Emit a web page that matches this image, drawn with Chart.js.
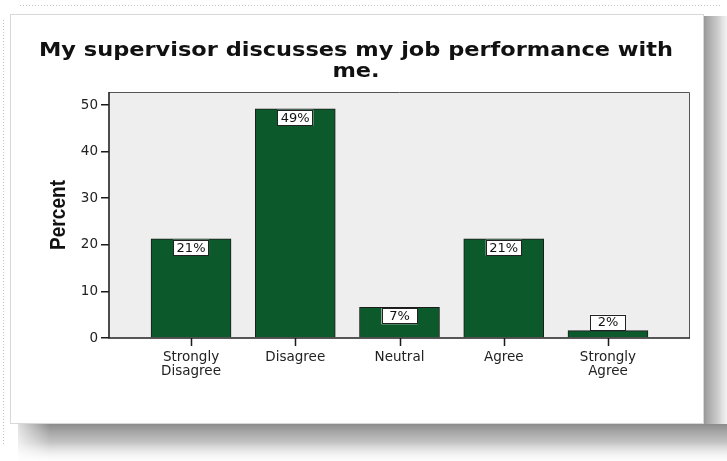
<!DOCTYPE html>
<html>
<head>
<meta charset="utf-8">
<script src="https://cdn.jsdelivr.net/npm/chart.js@4.4.1/dist/chart.umd.min.js"></script>
<style>
  html, body { margin: 0; padding: 0; background: #ffffff; }
  #wrap { width: 727px; height: 461px; }
</style>
</head>
<body>
<div id="wrap"><canvas id="chart" width="727" height="461"></canvas></div>
<script>
// Survey responses: share of respondents per answer
const categories = ['Strongly Disagree', 'Disagree', 'Neutral', 'Agree', 'Strongly Agree'];
const categoryLines = [['Strongly', 'Disagree'], ['Disagree'], ['Neutral'], ['Agree'], ['Strongly', 'Agree']];
const percentValues = [21.3, 49.2, 6.6, 21.3, 1.6];
const yTickValues = [0, 10, 20, 30, 40, 50];
const chartTitle = ['My supervisor discusses my job performance with', 'me.'];
const yAxisTitle = 'Percent';

const W = 727, H = 461;

// Draw text centred at (cx, cy), stretched horizontally by factor sx
function drawStretched(ctx, text, cx, cy, sx) {
  ctx.save();
  ctx.translate(cx, cy);
  ctx.scale(sx, 1);
  ctx.textAlign = 'center';
  ctx.textBaseline = 'middle';
  ctx.fillText(text, 0, 0);
  ctx.restore();
}

const framePlugin = {
  id: 'frame',
  beforeDraw(chart) {
    const ctx = chart.ctx;
    const a = chart.chartArea;
    ctx.save();
    ctx.fillStyle = '#ffffff';
    ctx.fillRect(0, 0, W, H);

    // faint dotted outline of the outer page
    ctx.strokeStyle = '#c4c4c4';
    ctx.lineWidth = 1;
    ctx.setLineDash([1, 2]);
    ctx.beginPath();
    ctx.moveTo(20, 5.5); ctx.lineTo(722, 5.5);
    ctx.moveTo(3.5, 20); ctx.lineTo(3.5, 445);
    ctx.stroke();
    ctx.setLineDash([]);

    // card shadow: right edge
    const cardL = 10, cardT = 14, cardR = 704, cardB = 424;
    let g = ctx.createLinearGradient(cardR, 0, W, 0);
    g.addColorStop(0, 'rgba(90,90,90,0.62)');
    g.addColorStop(0.6, 'rgba(140,140,140,0.45)');
    g.addColorStop(1, 'rgba(200,200,200,0.25)');
    ctx.fillStyle = g;
    ctx.fillRect(cardR, cardT + 2, W - cardR, cardB - cardT - 2);

    // card shadow: bottom edge
    g = ctx.createLinearGradient(0, cardB, 0, H);
    g.addColorStop(0, 'rgba(80,80,80,0.66)');
    g.addColorStop(0.5, 'rgba(130,130,130,0.48)');
    g.addColorStop(1, 'rgba(230,230,230,0.08)');
    ctx.fillStyle = g;
    ctx.fillRect(cardL + 8, cardB, W - cardL - 8, H - cardB);
    g = ctx.createLinearGradient(cardL, 0, cardL + 40, 0);
    g.addColorStop(0, 'rgba(255,255,255,0.9)');
    g.addColorStop(1, 'rgba(255,255,255,0)');
    ctx.fillStyle = g;
    ctx.fillRect(cardL, cardB, 40, H - cardB);

    // white card
    ctx.fillStyle = '#ffffff';
    ctx.fillRect(cardL, cardT, cardR - cardL, cardB - cardT);
    ctx.strokeStyle = '#d8d8d8';
    ctx.strokeRect(cardL + 0.5, cardT + 0.5, cardR - cardL - 1, cardB - cardT - 1);

    // title
    ctx.fillStyle = '#111111';
    ctx.font = 'bold 20px "DejaVu Sans"';
    const sx = 634 / ctx.measureText(chartTitle[0]).width;
    drawStretched(ctx, chartTitle[0], 356, 51, sx);
    drawStretched(ctx, chartTitle[1], 356, 72, sx);

    // y-axis title
    ctx.font = 'bold 22px "Liberation Sans"';
    const py = 70 / ctx.measureText(yAxisTitle).width;
    ctx.save();
    ctx.translate(59, 215);
    ctx.rotate(-Math.PI / 2);
    drawStretched(ctx, yAxisTitle, 0, 0, py);
    ctx.restore();

    // plot background
    ctx.fillStyle = '#eeeeee';
    ctx.fillRect(a.left, a.top, a.right - a.left, a.bottom - a.top);
    ctx.restore();
  },
  afterDatasetsDraw(chart) {
    const ctx = chart.ctx;
    const a = chart.chartArea;
    const xs = chart.scales.x;
    ctx.save();
    // plot frame
    ctx.strokeStyle = '#555555';
    ctx.lineWidth = 1;
    ctx.beginPath();
    ctx.moveTo(a.left, a.top + 0.5); ctx.lineTo(a.right - 0.5, a.top + 0.5);
    ctx.lineTo(a.right - 0.5, a.bottom);
    ctx.stroke();
    ctx.strokeStyle = '#222222';
    ctx.lineWidth = 1.6;
    ctx.beginPath();
    ctx.moveTo(a.left, a.top); ctx.lineTo(a.left, a.bottom); ctx.lineTo(a.right, a.bottom);
    ctx.stroke();

    // category tick marks under the axis
    ctx.strokeStyle = '#1a1a1a';
    ctx.lineWidth = 1.5;
    ctx.beginPath();
    categories.forEach((c, i) => {
      const px = Math.round(xs.getPixelForValue(i + 1)) + 0.5;
      ctx.moveTo(px, a.bottom);
      ctx.lineTo(px, a.bottom + 8);
    });
    ctx.stroke();

    // value labels in boxes at bar tops
    const meta = chart.getDatasetMeta(0);
    ctx.font = '13px "DejaVu Sans"';
    ctx.textAlign = 'center';
    ctx.textBaseline = 'middle';
    const bw = 36, bh = 16;
    meta.data.forEach((bar, i) => {
      const text = Math.round(percentValues[i]) + '%';
      const barH = bar.base - bar.y;
      const top = barH >= bh + 2 ? bar.y + 1 : bar.y - bh;
      ctx.fillStyle = '#ffffff';
      ctx.fillRect(bar.x - bw / 2, top, bw, bh);
      ctx.strokeStyle = '#222222';
      ctx.lineWidth = 1;
      ctx.strokeRect(Math.round(bar.x - bw / 2) + 0.5, Math.round(top) + 0.5, bw - 1, bh - 1);
      ctx.fillStyle = '#111111';
      ctx.fillText(text, bar.x, top + bh / 2 + 0.5);
    });
    ctx.restore();
  }
};

new Chart(document.getElementById('chart'), {
  type: 'bar',
  data: {
    datasets: [{
      label: yAxisTitle,
      data: percentValues.map((v, i) => ({ x: i + 1, y: v })),
      backgroundColor: '#0c5a2c',
      borderColor: '#1b1b1b',
      borderWidth: 1,
      borderSkipped: 'bottom',
      barThickness: 80
    }]
  },
  options: {
    responsive: false,
    animation: false,
    devicePixelRatio: 1,
    layout: { padding: { left: 0, top: 92, right: 37, bottom: 0 } },
    plugins: {
      legend: { display: false },
      title: { display: false },
      tooltip: { enabled: false }
    },
    scales: {
      x: {
        type: 'linear',
        offset: false,
        min: 0.213,
        max: 5.787,
        afterBuildTicks: (s) => { s.ticks = categories.map((c, i) => ({ value: i + 1 })); },
        afterFit: (s) => { s.height = H - 338; },
        ticks: {
          autoSkip: false,
          maxRotation: 0,
          padding: 4,
          color: '#222222',
          font: { family: 'DejaVu Sans', size: 13.5, lineHeight: 1.05 },
          callback: (v) => categoryLines[Math.round(v) - 1]
        },
        grid: { display: false },
        border: { display: false }
      },
      y: {
        min: 0,
        max: 52.8,
        afterBuildTicks: (s) => { s.ticks = yTickValues.map(v => ({ value: v })); },
        afterFit: (s) => { s.width = 109; },
        ticks: {
          padding: 3,
          color: '#222222',
          font: { family: 'DejaVu Sans', size: 13.5 }
        },
        grid: {
          drawOnChartArea: false, drawTicks: true,
          tickLength: 8, tickWidth: 1.5, tickColor: '#1a1a1a', color: '#1a1a1a', lineWidth: 1.5
        },
        border: { display: false }
      }
    }
  },
  plugins: [framePlugin]
});
</script>
</body>
</html>
